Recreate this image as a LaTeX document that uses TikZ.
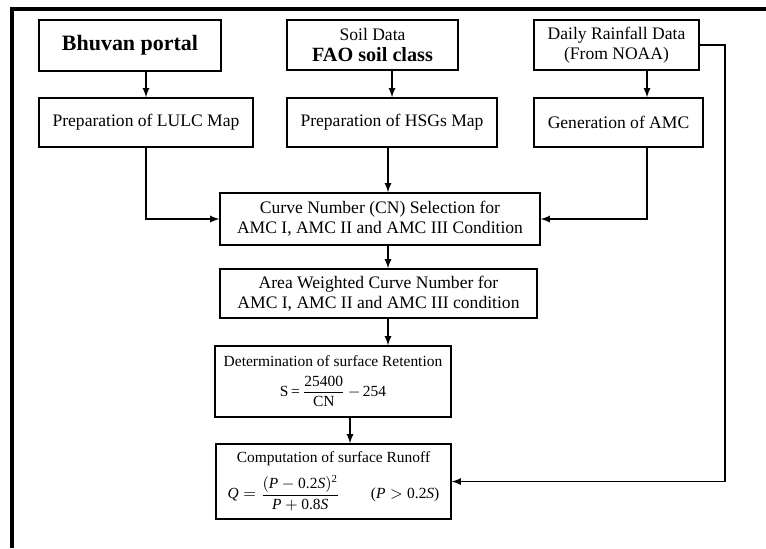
\documentclass[tikz,border=0pt]{standalone}
\usepackage{amsmath}
\usepackage{fontspec}
\setmainfont{Liberation Serif}
\usetikzlibrary{arrows}

\begin{document}
\begin{tikzpicture}[x=0.02cm, y=-0.02cm, >=latex,
    box/.style={draw, line width=0.8pt, align=center, inner sep=1pt,
        font=\fontsize{10}{11.5}\selectfont},
    small/.style={font=\fontsize{8.8}{10}\selectfont},
    flow/.style={->, line width=0.8pt}]

\useasboundingbox (0,0) rectangle (766,548);
\draw [line width=2.4pt] (12,548) -- (12,9) -- (766,9);

\coordinate (amcx) at (647,0);
\coordinate (side) at (725,0);
\coordinate (midx) at (388,0);
\coordinate (retx) at (350,0);

\node [box, minimum width=3.64cm, minimum height=1.02cm,
    font=\fontsize{12.5}{14}\selectfont\bfseries] (bhuvan) at (130,45.5) {Bhuvan portal};
\node [box, minimum width=3.42cm, minimum height=1.0cm] (soil) at (372.5,45)
    {Soil Data\\ {\fontsize{11.5}{12}\selectfont\bfseries FAO soil class}};
\node [box, minimum width=3.3cm, minimum height=1.0cm] (rain) at (616.5,45)
    {Daily Rainfall Data\\ (From NOAA)};

\node [box, minimum width=4.28cm, minimum height=0.98cm] (lulc) at (146,122.5) {Preparation of LULC Map};
\node [box, minimum width=4.2cm, minimum height=0.98cm] (hsg) at (392,122.5) {Preparation of HSGs Map};
\node [box, minimum width=3.38cm, minimum height=0.98cm] (amc) at (618.5,122.5) {Generation of AMC};

\node [box, minimum width=6.4cm, minimum height=1.04cm] (cn) at (380,219)
    {Curve Number (CN) Selection for\\ AMC I, AMC II and AMC III Condition};
\node [box, minimum width=6.34cm, minimum height=0.98cm] (aw) at (378.5,293.5)
    {Area Weighted Curve Number for\\ AMC I, AMC II and AMC III condition};
\node [box, small, minimum width=4.72cm, minimum height=1.42cm] (ret) at (333,381.5)
    {Determination of surface Retention\\[4pt]
     S\,=\,$\dfrac{\text{25400}}{\text{CN}}$\,$-$\,254};
\node [box, small, minimum width=4.7cm, minimum height=1.5cm] (run) at (333.5,481.5)
    {Computation of surface Runoff\\[4pt]
     $\textit{Q}=\dfrac{(\textit{P}-\text{0.2}\textit{S})^{\text{2}}}{\textit{P}+\text{0.8}\textit{S}}$\hspace{2em}($\textit{P}>\text{0.2}\textit{S}$)};

\foreach \a/\b in {bhuvan/lulc, soil/hsg}
    \draw [flow] (\a.south -| \b.north) -- (\b.north);
\draw [flow] (rain.south -| amcx) -- (amc.north -| amcx);

\draw [flow] (lulc.south) |- (cn.west);
\draw [flow] (hsg.south -| midx) -- (cn.north -| midx);
\draw [flow] (amc.south -| amcx) |- (cn.east);

\draw [flow] (cn.south -| midx) -- (aw.north -| midx);
\draw [flow] (aw.south -| midx) -- (ret.north -| midx);
\draw [flow] (ret.south -| retx) -- (run.north -| retx);

\draw [flow] (rain.east) -- (rain.east -| side) |- (run.east);

\end{tikzpicture}
\end{document}
